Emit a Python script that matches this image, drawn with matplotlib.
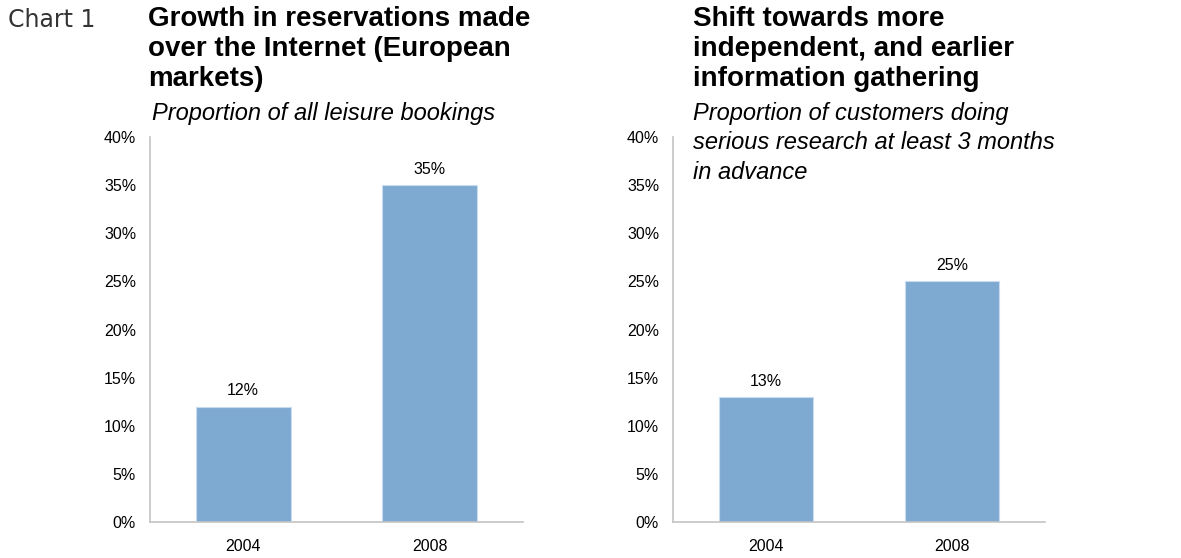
import matplotlib.pyplot as plt
from matplotlib.ticker import PercentFormatter

plt.rcParams['font.family'] = ['Liberation Sans', 'DejaVu Sans']

years = ["2004", "2008"]
online_share = [12, 35]        # % of all leisure bookings made online
early_research = [13, 25]      # % of customers researching 3+ months ahead
y_ticks = [0, 5, 10, 15, 20, 25, 30, 35, 40]

bar_color = "#7eaad2"
axis_color = "#c4c4c4"

W, H = 1181, 558
fig = plt.figure(figsize=(W / 100, H / 100), dpi=100)


def px(x, y):
    return x / W, 1 - y / H


def bar_panel(left_px, width_px, values):
    ax = fig.add_axes([left_px / W, (H - 522) / H, width_px / W, (522 - 137) / H])
    xs = range(len(values))
    bars = ax.bar(xs, values, width=0.51, color=bar_color,
                  edgecolor="#c9dcef", linewidth=0.8)
    for b, v in zip(bars, values):
        ax.annotate(f"{v}%", (b.get_x() + b.get_width() / 2, v),
                    xytext=(0, 6), textcoords="offset points",
                    ha="center", va="bottom", fontsize=11.5)
    ax.set_xlim(-0.5, 1.5)
    ax.set_ylim(0, 40)
    ax.set_yticks(y_ticks)
    ax.yaxis.set_major_formatter(PercentFormatter(decimals=0))
    ax.set_xticks(list(xs))
    ax.set_xticklabels(years)
    for s in ["top", "right"]:
        ax.spines[s].set_visible(False)
    for s in ["left", "bottom"]:
        ax.spines[s].set_color(axis_color)
        ax.spines[s].set_linewidth(1.2)
    ax.tick_params(axis="both", length=0, labelsize=11.5, colors="black")
    ax.tick_params(axis="y", pad=10)
    ax.tick_params(axis="x", pad=12)
    return ax


bar_panel(150, 373, online_share)
bar_panel(673, 372, early_research)

fig.text(*px(8, 8), "Chart 1", family="DejaVu Sans", fontsize=17,
         color="#333333", va="top", ha="left")

fig.text(*px(148, 6), "Growth in reservations made\nover the Internet (European\nmarkets)",
         fontsize=20, fontweight="bold", va="top", ha="left", linespacing=1.2)
fig.text(*px(152, 102), "Proportion of all leisure bookings",
         fontsize=17, style="italic", va="top", ha="left")

fig.text(*px(693, 6), "Shift towards more\nindependent, and earlier\ninformation gathering",
         fontsize=20, fontweight="bold", va="top", ha="left", linespacing=1.2)
fig.text(*px(693, 102), "Proportion of customers doing\nserious research at least 3 months\nin advance",
         fontsize=17, style="italic", va="top", ha="left", linespacing=1.35)

fig.savefig("out.png", dpi=100)
